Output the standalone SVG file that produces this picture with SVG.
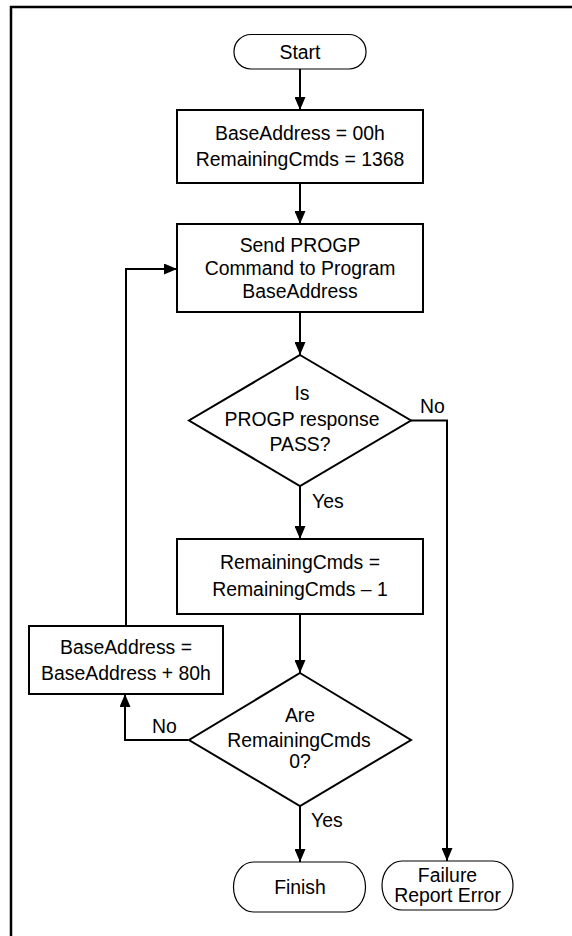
<svg xmlns="http://www.w3.org/2000/svg" width="572" height="936" viewBox="0 0 572 936">
<style>
text{font-family:"Liberation Sans",Arial,sans-serif;font-size:19.4px;fill:#000;text-anchor:middle}
.box{fill:#fff;stroke:#000;stroke-width:2}
.term{fill:#fff;stroke:#000;stroke-width:1.2}
.ln{fill:none;stroke:#000;stroke-width:2}
.lbl{text-anchor:start}
</style>
<defs>
<marker id="ah" markerUnits="userSpaceOnUse" markerWidth="14" markerHeight="11" refX="13" refY="5.5" orient="auto">
<path d="M0,0 L13,5.5 L0,11 z" fill="#000"/>
</marker>
</defs>
<rect width="572" height="936" fill="#fff"/>
<path d="M11,936 V7 H572" fill="none" stroke="#000" stroke-width="2.5"/>
<g id="connectors">
<path class="ln" d="M300,69 V110" marker-end="url(#ah)"/>
<path class="ln" d="M300,183 V224" marker-end="url(#ah)"/>
<path class="ln" d="M300,312 V355" marker-end="url(#ah)"/>
<path class="ln" d="M300,486 V539" marker-end="url(#ah)"/>
<path class="ln" d="M411,420.5 H447 V861" marker-end="url(#ah)"/>
<path class="ln" d="M300,614 V673" marker-end="url(#ah)"/>
<path class="ln" d="M188,740 H125 V694" marker-end="url(#ah)"/>
<path class="ln" d="M126,626 V269 H177" marker-end="url(#ah)"/>
<path class="ln" d="M300,806 V862" marker-end="url(#ah)"/>
<text class="lbl" x="420" y="413">No</text>
<text class="lbl" x="312" y="508">Yes</text>
<text class="lbl" x="152" y="733">No</text>
<text class="lbl" x="311" y="827">Yes</text>
</g>
<g id="start">
<rect class="term" x="234" y="34.5" width="132" height="34.5" rx="17" ry="17"/>
<text x="300" y="59">Start</text>
</g>
<g id="init">
<rect class="box" x="177" y="110" width="246" height="73"/>
<text x="300" y="140">BaseAddress = 00h</text>
<text x="300" y="166">RemainingCmds = 1368</text>
</g>
<g id="send">
<rect class="box" x="177" y="224" width="246" height="88"/>
<text x="300" y="252">Send PROGP</text>
<text x="300" y="275">Command to Program</text>
<text x="300" y="298">BaseAddress</text>
</g>
<g id="check-pass">
<path class="box" d="M300,355 L411,420.5 L300,486 L189,420.5 Z" stroke-width="1.5"/>
<text x="302" y="400">Is</text>
<text x="302" y="426">PROGP response</text>
<text x="300" y="451">PASS?</text>
</g>
<g id="decrement">
<rect class="box" x="177" y="539" width="246" height="75"/>
<text x="300" y="569">RemainingCmds =</text>
<text x="300" y="596">RemainingCmds – 1</text>
</g>
<g id="check-zero">
<path class="box" d="M300,673 L411,740 L300,806 L189,740 Z" stroke-width="1.5"/>
<text x="300" y="722">Are</text>
<text x="299" y="747">RemainingCmds</text>
<text x="300" y="768">0?</text>
</g>
<g id="increment">
<rect class="box" x="29" y="626" width="194" height="68"/>
<text x="126" y="654">BaseAddress =</text>
<text x="126" y="680">BaseAddress + 80h</text>
</g>
<g id="finish">
<rect class="term" x="233.5" y="862" width="132" height="50" rx="20" ry="25"/>
<text x="300" y="894">Finish</text>
</g>
<g id="failure">
<rect class="term" x="382" y="861" width="131" height="49" rx="20" ry="24.5"/>
<text x="447.5" y="881.5">Failure</text>
<text x="447.5" y="902">Report Error</text>
</g>
</svg>
